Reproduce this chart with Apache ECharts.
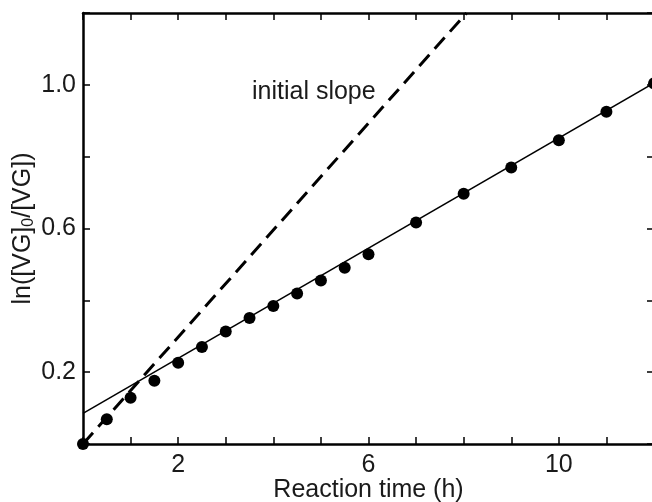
<!DOCTYPE html>
<html>
<head>
<meta charset="utf-8">
<script src="https://cdn.jsdelivr.net/npm/echarts@6/dist/echarts.min.js"></script>
<style>
  html, body { margin: 0; padding: 0; background: #fff; }
  #chart1 { width: 652px; height: 502px; }
</style>
</head>
<body>
<div id="chart1"></div>
<script>
// datos
const tiempos = [0, 0.5, 1, 1.5, 2, 2.5, 3, 3.5, 4, 4.5, 5, 5.5, 6, 7, 8, 9, 10, 11, 12]
const lnVG = [0, 0.069, 0.129, 0.176, 0.226, 0.270, 0.313, 0.351, 0.384, 0.419, 0.455, 0.491, 0.528, 0.617, 0.697, 0.770, 0.846, 0.925, 1.004]

// recta ajustada
const ajusteX = [0, 12]
const ajusteY = [0.085, 1.005]

// pendiente inicial (discontinua)
const inicialX = [0, 8.06]
const inicialY = [0, 1.2]

const xLabels = [2, 6, 10]
const yLabels = [0.2, 0.6, 1.0]

const fuente = 'Liberation Sans, Arial, Helvetica, sans-serif'
const negro = '#000'

const pares = (xs, ys) => xs.map((x, i) => [x, ys[i]])

const getOptionChart = () => {
  return {
    animation: false,
    backgroundColor: '#fff',
    textStyle: { fontFamily: fuente },
    grid: { left: 83, right: -2, top: 13, bottom: 58, containLabel: false, outerBoundsMode: 'none' },
    graphic: [
      {
        type: 'text',
        left: 252,
        top: 80,
        style: { text: 'initial slope', font: '25px ' + fuente, fill: '#1a1a1a' }
      }
    ],
    xAxis: [
      {
        type: 'value',
        min: 0,
        max: 12,
        interval: 1,
        name: 'Reaction time (h)',
        nameLocation: 'middle',
        nameGap: 34,
        nameMoveOverlap: false,
        nameTextStyle: { fontSize: 25, color: '#1a1a1a', fontFamily: fuente },
        axisLine: { show: true, onZero: false, lineStyle: { color: negro, width: 2.5 } },
        axisTick: { inside: true, length: 7, lineStyle: { color: negro, width: 1.5 } },
        axisLabel: {
          fontSize: 25,
          color: '#1a1a1a',
          margin: 9,
          formatter: v => (xLabels.includes(v) ? String(v) : '')
        },
        splitLine: { show: false }
      },
      {
        type: 'value',
        position: 'top',
        min: 0,
        max: 12,
        interval: 1,
        axisLine: { show: true, onZero: false, lineStyle: { color: negro, width: 2.5 } },
        axisTick: { inside: true, length: 7, lineStyle: { color: negro, width: 1.5 } },
        axisLabel: { show: false },
        splitLine: { show: false }
      }
    ],
    yAxis: [
      {
        type: 'value',
        min: 0,
        max: 1.2,
        interval: 0.2,
        name: 'ln([VG]{sub|0}/[VG])',
        nameLocation: 'middle',
        nameGap: 46,
        nameMoveOverlap: false,
        nameTextStyle: {
          fontSize: 25,
          color: '#1a1a1a',
          fontFamily: fuente,
          rich: { sub: { fontSize: 16, verticalAlign: 'bottom', padding: [12, 0, 0, 0] } }
        },
        axisLine: { show: true, onZero: false, lineStyle: { color: negro, width: 2.5 } },
        axisTick: { inside: true, length: 7, lineStyle: { color: negro, width: 1.5 } },
        axisLabel: {
          fontSize: 25,
          color: '#1a1a1a',
          margin: 7,
          formatter: v => {
            const r = Math.round(v * 10) / 10
            return yLabels.includes(r) ? r.toFixed(1) : ''
          }
        },
        splitLine: { show: false }
      },
      {
        type: 'value',
        position: 'right',
        min: 0,
        max: 1.2,
        interval: 0.2,
        axisLine: { show: true, onZero: false, lineStyle: { color: negro, width: 2.5 } },
        axisTick: { inside: true, length: 7, lineStyle: { color: negro, width: 1.5 } },
        axisLabel: { show: false },
        splitLine: { show: false }
      }
    ],
    series: [
      {
        name: 'initial slope',
        type: 'line',
        data: pares(inicialX, inicialY),
        symbol: 'none',
        lineStyle: { color: negro, width: 3, type: [15, 8] },
        z: 2
      },
      {
        name: 'ajuste',
        type: 'line',
        data: pares(ajusteX, ajusteY),
        symbol: 'none',
        lineStyle: { color: negro, width: 1.5 },
        z: 3
      },
      {
        name: 'datos',
        type: 'scatter',
        data: pares(tiempos, lnVG),
        symbol: 'circle',
        symbolSize: 12,
        itemStyle: { color: negro, opacity: 1 },
        clip: false,
        z: 4
      }
    ]
  }
}

const iniciarChart = () => {
  const chart1 = echarts.init(document.getElementById('chart1'))
  chart1.setOption(getOptionChart())
}

window.addEventListener('load', () => {
  iniciarChart()
})
</script>
</body>
</html>
